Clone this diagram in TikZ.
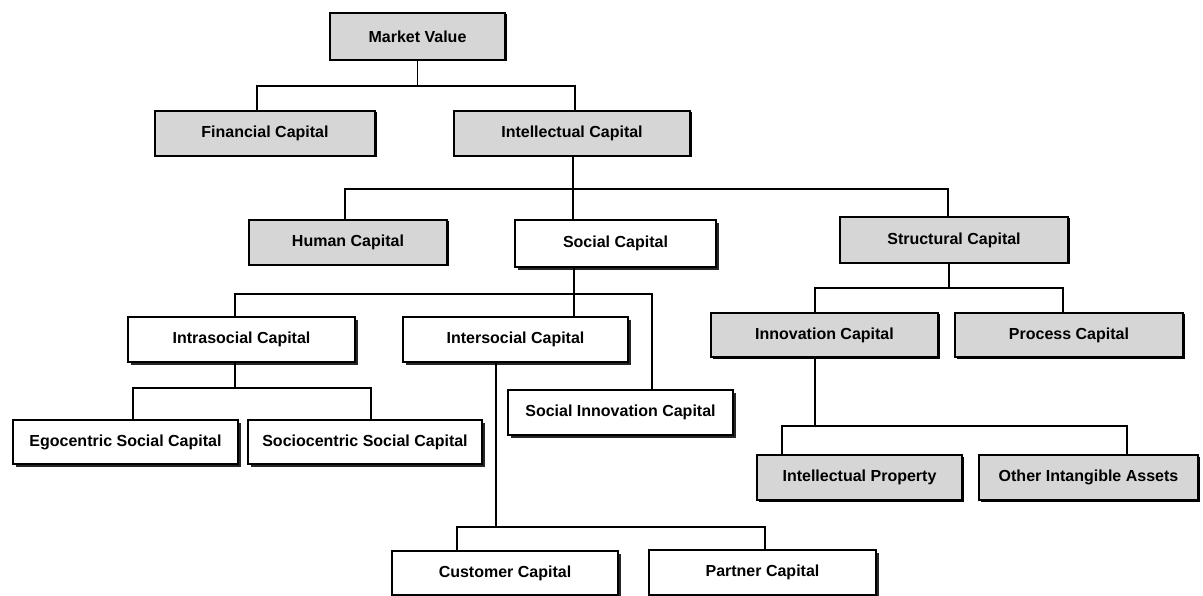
\documentclass[tikz,border=0pt]{standalone}
\usepackage{fontspec}
\setmainfont{Liberation Sans}
\usetikzlibrary{shadows}

\begin{document}
\begin{tikzpicture}[x=1pt, y=-1pt]

\tikzset{capbox/.style={shape=rectangle, draw=black, line width=1.6, inner sep=0, minimum height=45, font=\bfseries\fontsize{16}{18}\selectfont}}
\tikzset{stipple/.style={capbox, fill=black!16, drop shadow={shadow xshift=1.5pt, shadow yshift=-1.5pt, fill=black, opacity=1}}}
\tikzset{plain/.style={capbox, fill=white, drop shadow={shadow xshift=3pt, shadow yshift=-3pt, fill=black!85, opacity=1}}}
\tikzset{link/.style={line width=1.6}}

\useasboundingbox (0,0) rectangle (1203,596);

\node[stipple, minimum width=175, minimum height=47] (mv) at (417.5,36.5) {Market Value};
\node[stipple, minimum width=220] (fin) at (265,133.5) {Financial Capital};
\node[stipple, minimum width=236] (int) at (572,133.5) {Intellectual Capital};
\node[stipple, minimum width=198] (hum) at (348,242.5) {Human Capital};
\node[plain, minimum width=201, minimum height=47] (soc) at (615.5,243.5) {Social Capital};
\node[stipple, minimum width=228, minimum height=46] (str) at (954,240) {Structural Capital};
\node[plain, minimum width=227] (intra) at (241.5,339.5) {Intrasocial Capital};
\node[plain, minimum width=225] (inter) at (515.5,339.5) {Intersocial Capital};
\node[plain, minimum width=225] (sinn) at (620.5,412.5) {Social Innovation Capital};
\node[plain, minimum width=225, minimum height=44] (ego) at (125.5,442) {Egocentric Social Capital};
\node[plain, minimum width=234, minimum height=44] (socio) at (365,442) {Sociocentric Social Capital};
\node[plain, minimum width=226, minimum height=44] (cust) at (505,573) {Customer Capital};
\node[plain, minimum width=227] (part) at (762.5,572.5) {Partner Capital};
\node[stipple, minimum width=227, minimum height=44] (innov) at (824.5,335) {Innovation Capital};
\node[stipple, minimum width=228, minimum height=44] (proc) at (1069,335) {Process Capital};
\node[stipple, minimum width=205] (ip) at (859.5,477.5) {Intellectual Property};
\node[stipple, minimum width=219] (oia) at (1088.5,477.5) {Other Intangible Assets};

% market value
\draw[link] (mv.south) -- ++(0,25) -| ([xshift=-8pt]fin.north);
\draw[link] (mv.south) -- ++(0,25) -| ([xshift=3pt]int.north);
% intellectual capital
\draw[link] ([xshift=1pt]int.south) -- ++(0,32) -| ([xshift=-3pt]hum.north);
\draw[link] ([xshift=1pt]int.south) -- ++(0,32) -| ([xshift=-42.5pt]soc.north);
\draw[link] ([xshift=1pt]int.south) -- ++(0,32) -| ([xshift=-6pt]str.north);
% social capital
\draw[link] ([xshift=-41.5pt]soc.south) -- ++(0,26) -| ([xshift=-6.5pt]intra.north);
\draw[link] ([xshift=-41.5pt]soc.south) -- ++(0,26) -| ([xshift=58.5pt]inter.north);
\draw[link] ([xshift=-41.5pt]soc.south) -- ++(0,26) -| ([xshift=31.5pt]sinn.north);
\draw[link] ([xshift=-6.5pt]intra.south) -- ++(0,25) -| ([xshift=7.5pt]ego.north);
\draw[link] ([xshift=-6.5pt]intra.south) -- ++(0,25) -| ([xshift=6pt]socio.north);
\draw[link] ([xshift=-19.5pt]inter.south) -- ++(0,164) -| ([xshift=-48pt]cust.north);
\draw[link] ([xshift=-19.5pt]inter.south) -- ++(0,164) -| ([xshift=2.5pt]part.north);
% structural capital
\draw[link] ([xshift=-5pt]str.south) -- ++(0,24) -| ([xshift=-9.5pt]innov.north);
\draw[link] ([xshift=-5pt]str.south) -- ++(0,24) -| ([xshift=-6pt]proc.north);
\draw[link] ([xshift=-9.5pt]innov.south) -- ++(0,68) -| ([xshift=-77.5pt]ip.north);
\draw[link] ([xshift=-9.5pt]innov.south) -- ++(0,68) -| ([xshift=38.5pt]oia.north);

\end{tikzpicture}
\end{document}
